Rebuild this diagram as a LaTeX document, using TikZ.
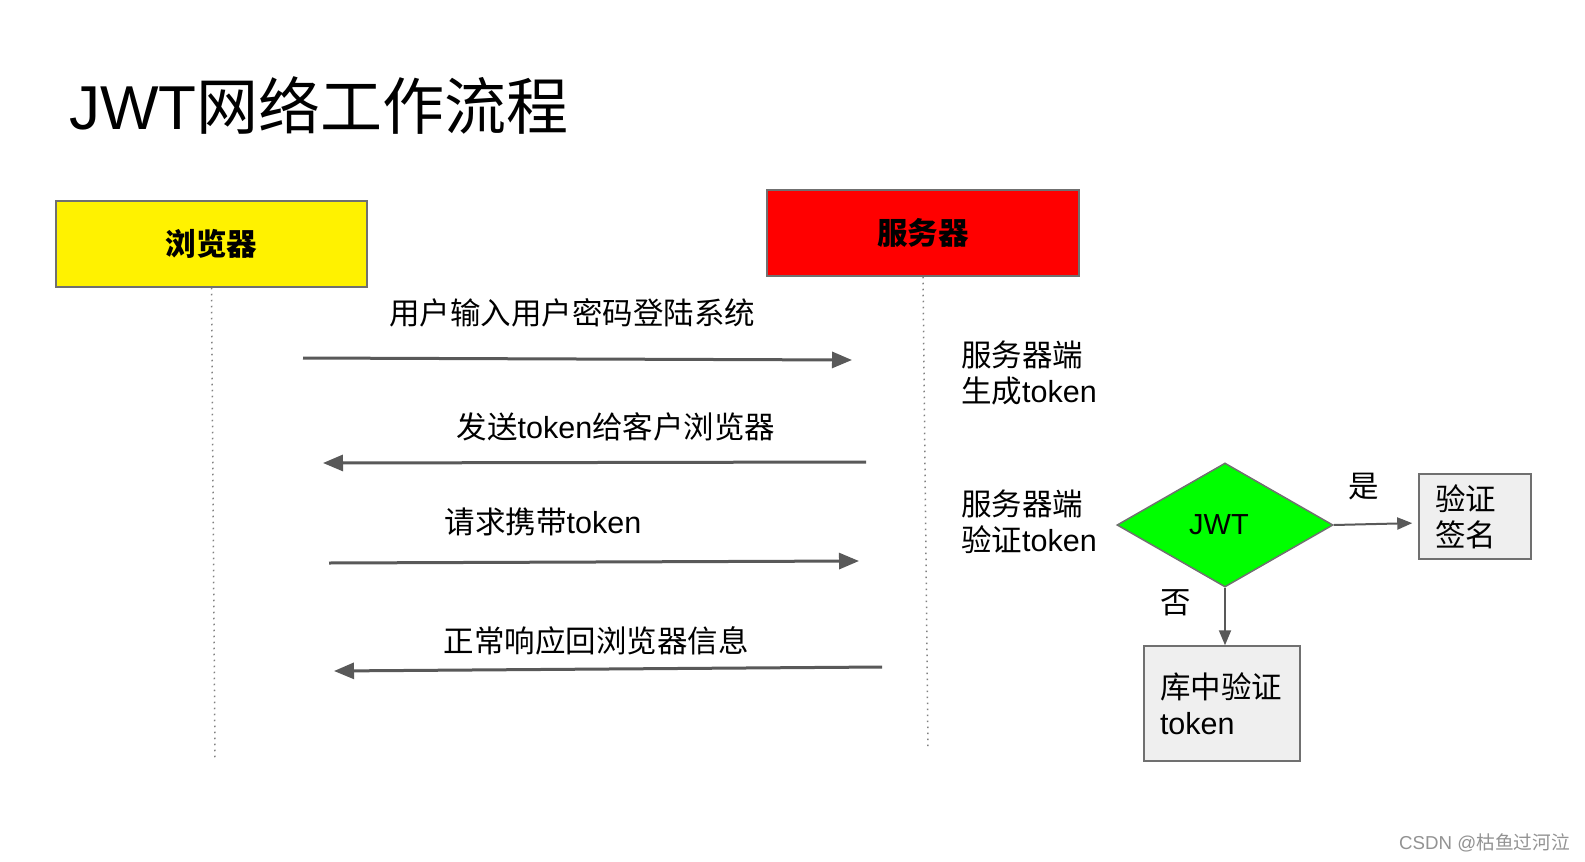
\documentclass[tikz,border=0pt]{standalone}
\usepackage{fontspec}
\setmainfont{Liberation Sans}
\newfontfamily\cjk{Noto Sans CJK SC}
\usepackage{tikz}
\usetikzlibrary{arrows.meta, shapes.geometric}
\usepackage{xcolor}
\definecolor{arrowgray}{HTML}{595959}
\definecolor{boxline}{HTML}{707070}
\definecolor{boxgray}{HTML}{EFEFEF}
\definecolor{jwtgreen}{HTML}{00FF00}

\begin{document}
\begin{tikzpicture}[x=1pt, y=-1pt,
    actor/.style={draw=boxline, line width=1.5pt, minimum width=311pt, minimum height=86pt,
                  inner sep=0pt, font=\fontsize{30.5}{36}\selectfont\cjk\bfseries},
    msg/.style={draw=arrowgray, line width=3pt, -{Triangle[length=20pt,width=16pt]}},
    branch/.style={draw=arrowgray, line width=2pt, -{Triangle[length=15pt,width=12pt]}},
    lifeline/.style={draw=gray, line width=1.5pt, dash pattern=on 1.5pt off 4.5pt},
    lbl/.style={inner sep=0pt, font=\fontsize{30.5}{36}\selectfont},
    note/.style={lbl, align=left, anchor=west},
    checkbox/.style={lbl, draw=boxline, fill=boxgray, line width=1.5pt, align=left,
                     inner xsep=16pt, inner ysep=0pt}]
                \fill[white] (0,0) rectangle (1585,862);
                \useasboundingbox (0,0) rectangle (1585,862);
                % title
                \node[anchor=west, inner sep=0pt, font=\fontsize{62}{70}\selectfont] (title) at (69,106) {JWT{\cjk 网络工作流程}};
                % actors and lifelines
                \node[actor, fill=yellow] (browser) at (211.5,244) {浏览器};
                \node[actor, fill=red, minimum width=312pt] (server) at (923,233) {服务器};
                \coordinate (browserEnd) at (215,758);
                \coordinate (serverEnd) at (928,748);
                \draw[lifeline] (browser.south) -- (browserEnd);
                \draw[lifeline] (server.south) -- (serverEnd);
                % messages
                \coordinate (loginA) at (303,358);  \coordinate (loginB) at (852,360);
                \coordinate (tokenA) at (866,462);  \coordinate (tokenB) at (323,463);
                \coordinate (reqA) at (329,563);    \coordinate (reqB) at (859,561);
                \coordinate (respA) at (882,667);   \coordinate (respB) at (334,671);
                \draw[msg] (loginA) -- (loginB);
                \draw[msg] (tokenA) -- (tokenB);
                \draw[msg] (reqA) -- (reqB);
                \draw[msg] (respA) -- (respB);
                \node[lbl] (loginLbl) at (572,313) {\cjk 用户输入用户密码登陆系统};
                \node[lbl] (tokenLbl) at (616,427) {{\cjk 发送}token{\cjk 给客户浏览器}};
                \node[lbl] (reqLbl) at (543,522) {{\cjk 请求携带}token};
                \node[lbl] (respLbl) at (596,641) {\cjk 正常响应回浏览器信息};
                % server side notes
                \node[note] (genNote) at (961,373) {{\cjk 服务器端}\\{\cjk 生成}token};
                \node[note] (chkNote) at (961,522) {{\cjk 服务器端}\\{\cjk 验证}token};
                % verification
                \node[diamond, draw=boxline, fill=jwtgreen, line width=1.5pt, minimum width=216pt,
                      minimum height=124pt, inner sep=0pt, font=\fontsize{29}{34}\selectfont] (jwt) at (1225,525) {\hspace*{-12pt}JWT};
                \node[checkbox, text width=80pt, minimum height=85pt] (sign) at (1475,516.5) {\cjk 验证\\签名};
                \node[checkbox, text width=124pt, minimum height=115pt] (db) at (1222,703.5) {{\cjk 库中验证}\\token};
                \draw[branch, shorten >=6pt] (jwt.east) -- (sign.west |- 0,523);
                \draw[branch] (jwt.south) -- (jwt.south |- db.north);
                \node[lbl] (yesLbl) at (1364,487) {\cjk 是};
                \node[lbl] (noLbl) at (1176,603) {\cjk 否};
                % watermark
                \node[anchor=west, inner sep=0pt, text=gray!85, font=\fontsize{18.7}{22}\selectfont] (mark) at (1399,843) {CSDN @{\cjk 枯鱼过河泣}};
            \end{tikzpicture}
\end{document}
